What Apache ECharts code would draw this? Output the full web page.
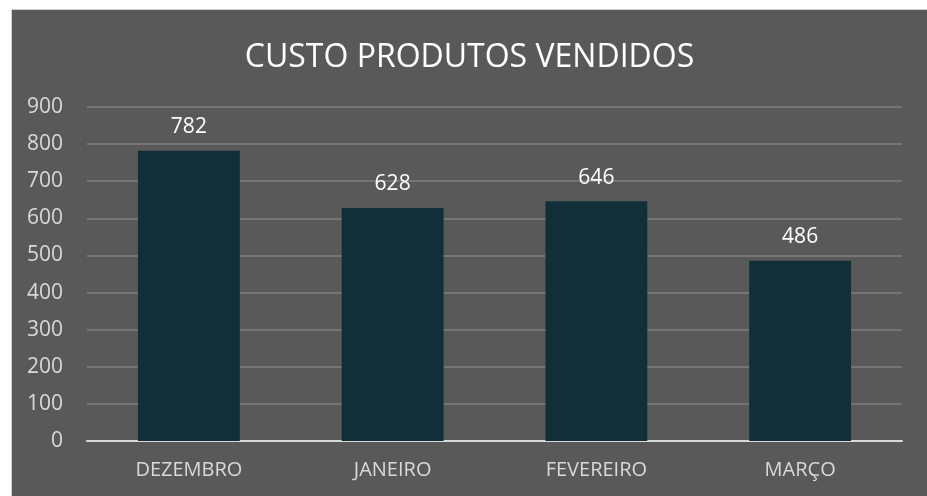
<!DOCTYPE html>
<html>
<head>
<meta charset="utf-8">
<script src="https://cdn.jsdelivr.net/npm/echarts@6/dist/echarts.min.js"></script>
<style>
  html, body { margin: 0; padding: 0; background: #ffffff; }
  #chart {
    position: absolute;
    left: 11px;
    top: 9px;
    width: 916px;
    height: 487px;
    background: #595959;
    border-top: 1px solid #d0d0d0;
    border-left: 1px solid #d0d0d0;
    box-sizing: border-box;
  }
</style>
</head>
<body>
<div id="chart"></div>
<script>
const months = ['DEZEMBRO', 'JANEIRO', 'FEVEREIRO', 'MARÇO'];
const custo = [782, 628, 646, 486];

const myChart = echarts.init(document.getElementById('chart'));
const option = {
  backgroundColor: '#595959',
  textStyle: { fontFamily: 'Open Sans' },
  title: {
    text: 'CUSTO PRODUTOS VENDIDOS',
    left: 'center',
    top: 27,
    textStyle: { color: '#ffffff', fontSize: 32, fontWeight: 'normal', fontFamily: 'Open Sans' }
  },
  grid: { left: 75, right: 25, top: 97, bottom: 55 },
  xAxis: {
    type: 'category',
    data: months,
    axisLine: { lineStyle: { color: '#d9d9d9', width: 2 } },
    axisTick: { show: false },
    axisLabel: { color: '#d9d9d9', fontSize: 20, margin: 19 }
  },
  yAxis: {
    type: 'value',
    min: 0,
    max: 900,
    interval: 100,
    axisLine: { show: false },
    axisTick: { show: false },
    axisLabel: { color: '#d9d9d9', fontSize: 21, margin: 24 },
    splitLine: { lineStyle: { color: '#7f7f7f', width: 1.5 } }
  },
  series: [
    {
      name: 'Custo',
      type: 'bar',
      data: custo,
      barWidth: '50%',
      itemStyle: { color: '#112f38' },
      label: { show: true, position: 'top', distance: 13, color: '#ffffff', fontSize: 21 }
    }
  ]
};
option && myChart.setOption(option);
</script>
</body>
</html>
